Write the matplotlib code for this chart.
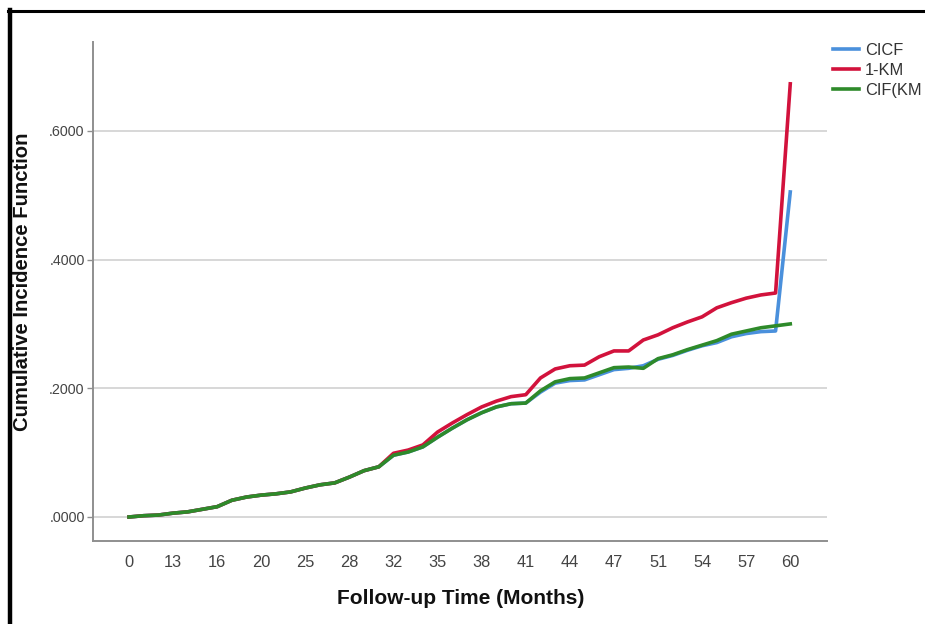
import matplotlib
matplotlib.use("Agg")
import matplotlib.pyplot as plt
from matplotlib.lines import Line2D

plt.rcParams['font.family'] = ['Liberation Sans', 'DejaVu Sans']

# Follow-up months (one category per distinct event time)
months = [0, 6, 10, 13, 14, 15, 16, 17, 18, 20, 22, 23, 25, 26, 27, 28,
          30, 31, 32, 33, 34, 35, 36, 37, 38, 39, 40, 41, 42, 43, 44, 45,
          46, 47, 49, 50, 51, 52, 53, 54, 55, 56, 57, 58, 59, 60]

cif_km = [0.000, 0.002, 0.003, 0.006, 0.008, 0.012, 0.016, 0.026, 0.031, 0.034,
          0.036, 0.039, 0.045, 0.050, 0.053, 0.062, 0.072, 0.078, 0.096, 0.101,
          0.109, 0.124, 0.138, 0.151, 0.162, 0.171, 0.176, 0.177, 0.196, 0.210,
          0.215, 0.216, 0.224, 0.232, 0.233, 0.231, 0.246, 0.252, 0.260, 0.267,
          0.274, 0.284, 0.289, 0.294, 0.297, 0.300]

cicf = [0.000, 0.002, 0.003, 0.006, 0.008, 0.012, 0.016, 0.026, 0.031, 0.034,
        0.036, 0.039, 0.045, 0.050, 0.053, 0.062, 0.072, 0.078, 0.096, 0.101,
        0.109, 0.124, 0.138, 0.151, 0.162, 0.171, 0.176, 0.177, 0.194, 0.208,
        0.212, 0.213, 0.221, 0.229, 0.231, 0.235, 0.245, 0.251, 0.259, 0.266,
        0.271, 0.280, 0.285, 0.288, 0.289, 0.505]

one_minus_km = [0.000, 0.002, 0.003, 0.006, 0.008, 0.012, 0.016, 0.026, 0.031, 0.034,
                0.036, 0.039, 0.045, 0.050, 0.053, 0.062, 0.072, 0.078, 0.099, 0.104,
                0.112, 0.132, 0.146, 0.159, 0.171, 0.180, 0.187, 0.190, 0.216, 0.230,
                0.235, 0.236, 0.249, 0.258, 0.258, 0.275, 0.283, 0.294, 0.303, 0.311,
                0.325, 0.333, 0.340, 0.345, 0.348, 0.673]

series_names = ['CICF', '1-KM', 'CIF(KM']

y_ticks = [0.0, 0.2, 0.4, 0.6]
y_tick_labels = ['.0000', '.2000', '.4000', '.6000']

BLUE = '#4a90dc'
RED = '#d2123c'
GREEN = '#2e8a2a'

fig = plt.figure(figsize=(9.25, 6.24), dpi=100)
fig.patch.set_facecolor('white')
ax = fig.add_axes([93 / 925, 1 - 541 / 624, 734 / 925, 499 / 624])

cats = [str(m) for m in months]
lw = 2.6
ax.plot(cats, cicf, color=BLUE, lw=lw, label=series_names[0], solid_joinstyle='round', zorder=3)
ax.plot(cats, one_minus_km, color=RED, lw=lw, label=series_names[1], solid_joinstyle='round', zorder=4)
ax.plot(cats, cif_km, color=GREEN, lw=lw, label=series_names[2], solid_joinstyle='round', zorder=5)

ax.set_xlim(-2.45, 47.5)
ax.set_ylim(-0.0373, 0.738)

ax.set_xticks(list(range(0, len(months), 3)))
ax.set_xticklabels([cats[i] for i in range(0, len(months), 3)])
ax.set_yticks(y_ticks)
ax.set_yticklabels(y_tick_labels)

ax.grid(axis='y', color='#d4d4d4', lw=1.3, zorder=0)
ax.grid(axis='x', visible=False)
ax.set_axisbelow(True)

for side in ('top', 'right'):
    ax.spines[side].set_visible(False)
for side in ('left', 'bottom'):
    ax.spines[side].set_color('#8f8f8f')
    ax.spines[side].set_linewidth(1.4)

ax.tick_params(axis='x', length=0, pad=10, labelsize=11.8, labelcolor='#444444')
ax.tick_params(axis='y', length=4, width=1, color='#8f8f8f', pad=2,
               labelsize=10.3, labelcolor='#444444')

fig.text(22.5 / 925, 1 - 282 / 624, 'Cumulative Incidence Function', rotation=90,
         ha='center', va='center', fontsize=14.6, fontweight='bold', color='#111111')
fig.text(461 / 925, 1 - 598 / 624, 'Follow-up Time (Months)',
         ha='center', va='center', fontsize=15, fontweight='bold', color='#111111')

ax.legend(loc='upper left', bbox_to_anchor=(833 / 925, 1 - 43 / 624),
          bbox_transform=fig.transFigure, frameon=False, fontsize=11.8,
          handlelength=1.6, handletextpad=0.35, labelspacing=0.3,
          borderpad=0, borderaxespad=0, labelcolor='#333333')

# page frame edges
fig.add_artist(Line2D([10 / 925, 10 / 925], [0, 1 - 10 / 624], transform=fig.transFigure,
                      color='black', lw=3.2))
fig.add_artist(Line2D([8 / 925, 1], [1 - 11 / 624, 1 - 11 / 624], transform=fig.transFigure,
                      color='black', lw=2.2))

fig.savefig('out.png', dpi=100)
